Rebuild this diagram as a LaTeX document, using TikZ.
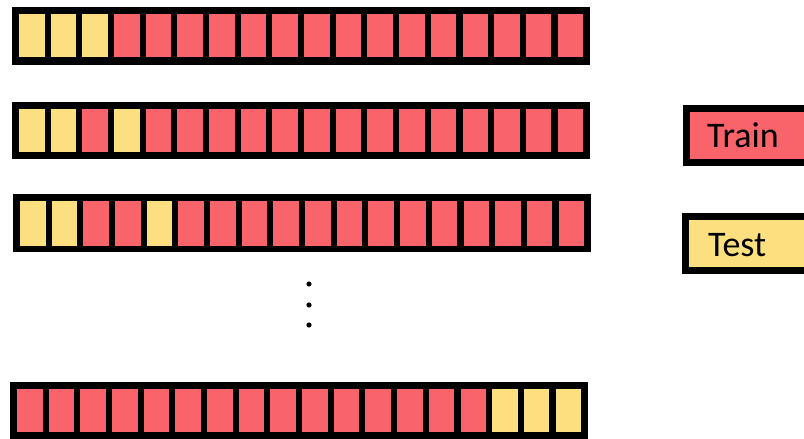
\documentclass[tikz,border=0pt]{standalone}
\usepackage{fontspec}
\setmainfont{Carlito}
\definecolor{trainred}{HTML}{F9636A}
\definecolor{testyellow}{HTML}{FCE07F}
\tikzset{
  cellR/.style={fill=trainred},
  cellY/.style={fill=testyellow},
  barframe/.style={fill=black},
  legendbox/.style={draw=black, line width=7pt},
  legendtext/.style={anchor=base west, inner sep=0pt, font=\fontsize{36}{36}\selectfont},
  dotmark/.style={fill=black}
}
\newcommand{\cvrow}[6]{%
  % #1 left, #2 top, #3 bottom, #4 cell top, #5 cell bottom, #6 list
  \fill[barframe] (#1,#2) rectangle ++(578,#3-#2);
  \foreach \c [count=\i from 0] in {#6} {
    \fill[cell\c] ({#1+7+\i*31.68},#4) rectangle ++(25.5,#5-#4);
  }
}
\begin{document}
\begin{tikzpicture}[x=1pt,y=-1pt]
\useasboundingbox (0,0) rectangle (804,439);
\clip (0,0) rectangle (804,439);
\fill[white] (0,0) rectangle (804,439);
\cvrow{12}{7}{65}{14}{57}{Y,Y,Y,R,R,R,R,R,R,R,R,R,R,R,R,R,R,R}
\cvrow{12}{102}{159}{108.5}{152}{Y,Y,R,Y,R,R,R,R,R,R,R,R,R,R,R,R,R,R}
\cvrow{13}{194}{252}{201}{246}{Y,Y,R,R,Y,R,R,R,R,R,R,R,R,R,R,R,R,R}
\cvrow{10}{382}{444}{388.5}{432}{R,R,R,R,R,R,R,R,R,R,R,R,R,R,R,Y,Y,Y}
% dots
\fill[dotmark] (309,284) circle (2.6);
\fill[dotmark] (309,305) circle (2.6);
\fill[dotmark] (309,325) circle (2.6);
% legend
\filldraw[legendbox, fill=trainred] (686.5,108.5) rectangle (830,162.5);
\node[legendtext] (train) at (707,147) {Train};
\filldraw[legendbox, fill=testyellow] (685.5,216.5) rectangle (830,270.5);
\node[legendtext] (test) at (708,256) {Test};
\end{tikzpicture}
\end{document}
